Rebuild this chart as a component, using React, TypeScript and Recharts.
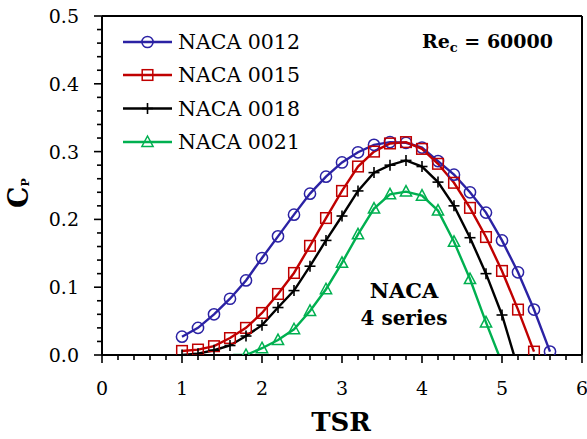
import React from 'react';
import { LineChart, Line, XAxis, YAxis, ReferenceLine, Legend } from 'recharts';

const FONT = '"DejaVu Serif", "Liberation Serif", serif';

// ---- data ----
const naca0012Tsr = [1.0, 1.2, 1.4, 1.6, 1.8, 2.0, 2.2, 2.4, 2.6, 2.8, 3.0, 3.2, 3.4, 3.6, 3.8, 4.0, 4.2, 4.4, 4.6, 4.8, 5.0, 5.2, 5.4, 5.6];
const naca0012Cp = [0.027, 0.040, 0.060, 0.083, 0.110, 0.143, 0.175, 0.207, 0.238, 0.263, 0.284, 0.299, 0.310, 0.314, 0.313, 0.306, 0.286, 0.266, 0.240, 0.210, 0.169, 0.122, 0.067, 0.005];

const naca0015Tsr = [1.0, 1.2, 1.4, 1.6, 1.8, 2.0, 2.2, 2.4, 2.6, 2.8, 3.0, 3.2, 3.4, 3.6, 3.8, 4.0, 4.2, 4.4, 4.6, 4.8, 5.0, 5.2, 5.4];
const naca0015Cp = [0.006, 0.008, 0.013, 0.025, 0.040, 0.062, 0.090, 0.121, 0.161, 0.202, 0.242, 0.278, 0.300, 0.312, 0.314, 0.304, 0.282, 0.254, 0.217, 0.174, 0.124, 0.067, 0.005];

const naca0018Tsr = [1.0, 1.2, 1.4, 1.6, 1.8, 2.0, 2.2, 2.4, 2.6, 2.8, 3.0, 3.2, 3.4, 3.6, 3.8, 4.0, 4.2, 4.4, 4.6, 4.8, 5.0, 5.15];
const naca0018Cp = [0.000, 0.002, 0.007, 0.014, 0.028, 0.044, 0.070, 0.095, 0.131, 0.169, 0.205, 0.242, 0.269, 0.280, 0.287, 0.278, 0.255, 0.220, 0.173, 0.120, 0.059, 0.000];
const naca0018NoMarker = [5.15];

const naca0021Tsr = [1.64, 1.8, 2.0, 2.2, 2.4, 2.6, 2.8, 3.0, 3.2, 3.4, 3.6, 3.8, 4.0, 4.2, 4.4, 4.6, 4.8, 4.96];
const naca0021Cp = [0.000, 0.000, 0.010, 0.022, 0.038, 0.065, 0.097, 0.136, 0.178, 0.216, 0.237, 0.241, 0.235, 0.213, 0.167, 0.112, 0.048, 0.000];
const naca0021NoMarker = [1.64, 4.96];

const xTicks = [0, 0.2, 0.4, 0.6, 0.8, 1, 1.2, 1.4, 1.6, 1.8, 2, 2.2, 2.4, 2.6, 2.8, 3, 3.2, 3.4, 3.6, 3.8, 4, 4.2, 4.4, 4.6, 4.8, 5, 5.2, 5.4, 5.6, 5.8, 6];
const yTicks = [0, 0.02, 0.04, 0.06, 0.08, 0.1, 0.12, 0.14, 0.16, 0.18, 0.2, 0.22, 0.24, 0.26, 0.28, 0.3, 0.32, 0.34, 0.36, 0.38, 0.4, 0.42, 0.44, 0.46, 0.48, 0.5];

const seriesNames = ['NACA 0012', 'NACA 0015', 'NACA 0018', 'NACA 0021'];
const COLORS = ['#2B22A4', '#C00000', '#000000', '#00B050'];
const SHAPES = ['circle', 'square', 'plus', 'triangle'];

const build = (tsr: number[], cp: number[], noMarker: number[] = []) =>
  tsr.map((t, i) => ({ tsr: t, cp: cp[i], marker: !noMarker.includes(t) }));

const d12 = build(naca0012Tsr, naca0012Cp);
const d15 = build(naca0015Tsr, naca0015Cp);
const d18 = build(naca0018Tsr, naca0018Cp, naca0018NoMarker);
const d21 = build(naca0021Tsr, naca0021Cp, naca0021NoMarker);

const Marker = ({ shape, cx, cy, color }: { shape: string; cx: number; cy: number; color: string }) => {
  const sw = 1.5;
  if (shape === 'circle') return <circle cx={cx} cy={cy} r={5.6} fill="none" stroke={color} strokeWidth={sw} />;
  if (shape === 'square') return <rect x={cx - 5.3} y={cy - 5.3} width={10.6} height={10.6} fill="none" stroke={color} strokeWidth={sw} />;
  if (shape === 'triangle')
    return <polygon points={`${cx},${cy - 6} ${cx + 5.6},${cy + 4.5} ${cx - 5.6},${cy + 4.5}`} fill="none" stroke={color} strokeWidth={sw} />;
  return (
    <g stroke={color} strokeWidth={1.6}>
      <line x1={cx - 5.5} y1={cy} x2={cx + 5.5} y2={cy} />
      <line x1={cx} y1={cy - 5.5} x2={cx} y2={cy + 5.5} />
    </g>
  );
};

const makeDot = (shape: string, color: string) => (p: any) => {
  const key = `d-${shape}-${p.index}`;
  if (p.cx == null || p.cy == null || !p.payload?.marker) return <g key={key} />;
  return (
    <g key={key}>
      <Marker shape={shape} cx={p.cx} cy={p.cy} color={color} />
    </g>
  );
};

const isMajor = (v: number, step: number) => Math.abs(v / step - Math.round(v / step)) < 1e-6;

const XTick = (props: any) => {
  const { x, y, payload } = props;
  const v = payload.value;
  const major = isMajor(v, 1);
  return (
    <g>
      <line x1={x} y1={y} x2={x} y2={y + (major ? 8 : 5)} stroke="#000" strokeWidth={1.6} />
      {major && (
        <text x={x} y={y + 40} textAnchor="middle" fontFamily={FONT} fontSize={19} fill="#000">
          {Math.round(v)}
        </text>
      )}
    </g>
  );
};

const YTick = (props: any) => {
  const { x, y, payload } = props;
  const v = payload.value;
  const major = isMajor(v, 0.1);
  return (
    <g>
      <line x1={x} y1={y} x2={x - (major ? 8 : 5)} y2={y} stroke="#000" strokeWidth={1.6} />
      {major && (
        <text x={x - 23} y={y + 7} textAnchor="end" fontFamily={FONT} fontSize={19} fill="#000">
          {v.toFixed(1)}
        </text>
      )}
    </g>
  );
};

const LegendContent = () => {
  const rowY = [17, 50, 83.5, 117];
  return (
    <svg width={240} height={140} style={{ overflow: 'visible' }}>
      {seriesNames.map((name, i) => (
        <g key={name}>
          <line x1={8} y1={rowY[i]} x2={57} y2={rowY[i]} stroke={COLORS[i]} strokeWidth={2.4} />
          <Marker shape={SHAPES[i]} cx={32.5} cy={rowY[i]} color={COLORS[i]} />
          <text x={63} y={rowY[i] + 7} fontFamily={FONT} fontSize={20.5} fill="#000">
            {name}
          </text>
        </g>
      ))}
    </svg>
  );
};

export default function App() {
  const datasets = [d12, d15, d18, d21];
  return (
    <div style={{ position: 'absolute', left: 0, top: 0, width: 587, height: 439, background: '#fff' }}>
      <LineChart width={587} height={439} margin={{ top: 16, right: 5, left: 0, bottom: 0 }}>
        <XAxis
          dataKey="tsr"
          type="number"
          domain={[0, 6]}
          ticks={xTicks}
          interval={0}
          allowDataOverflow
          height={84}
          tickLine={false}
          tickSize={0}
          tickMargin={0}
          axisLine={{ stroke: '#000', strokeWidth: 2 }}
          tick={<XTick />}
        />
        <YAxis
          type="number"
          domain={[0, 0.5]}
          ticks={yTicks}
          interval={0}
          allowDataOverflow
          width={102}
          tickLine={false}
          tickSize={0}
          tickMargin={0}
          axisLine={{ stroke: '#000', strokeWidth: 2 }}
          tick={<YTick />}
        />
        <ReferenceLine x={6} stroke="#000" strokeWidth={2} ifOverflow="visible" />
        <ReferenceLine y={0.5} stroke="#000" strokeWidth={2} ifOverflow="visible" />
        {datasets.map((d, i) => (
          <Line
            key={seriesNames[i]}
            data={d}
            dataKey="cp"
            name={seriesNames[i]}
            type="linear"
            stroke={COLORS[i]}
            strokeWidth={2.4}
            dot={makeDot(SHAPES[i], COLORS[i])}
            activeDot={false}
            isAnimationActive={false}
          />
        ))}
        <Legend
          layout="horizontal"
          verticalAlign="middle"
          align="center"
          wrapperStyle={{ position: 'absolute', left: 115, top: 25, width: 240, height: 140 }}
          content={<LegendContent />}
        />
        <text x={28} y={193} transform="rotate(-90 28 193)" textAnchor="middle" fontFamily={FONT} fontWeight="bold" fontSize={27} fill="#000">
          C<tspan fontSize={11} dy={1}>P</tspan>
        </text>
        <text x={341} y={431} textAnchor="middle" fontFamily={FONT} fontWeight="bold" fontSize={26} fill="#000">
          TSR
        </text>
        <text x={553} y={48} textAnchor="end" fontFamily={FONT} fontWeight="bold" fontSize={19} fill="#000">
          Re<tspan fontSize={13} dy={4}>c</tspan>
          <tspan dy={-4}> = 60000</tspan>
        </text>
        <text x={404} y={298} textAnchor="middle" fontFamily={FONT} fontWeight="bold" fontSize={21} fill="#000">
          NACA
        </text>
        <text x={404} y={325} textAnchor="middle" fontFamily={FONT} fontWeight="bold" fontSize={20} fill="#000">
          4 series
        </text>
      </LineChart>
    </div>
  );
}
